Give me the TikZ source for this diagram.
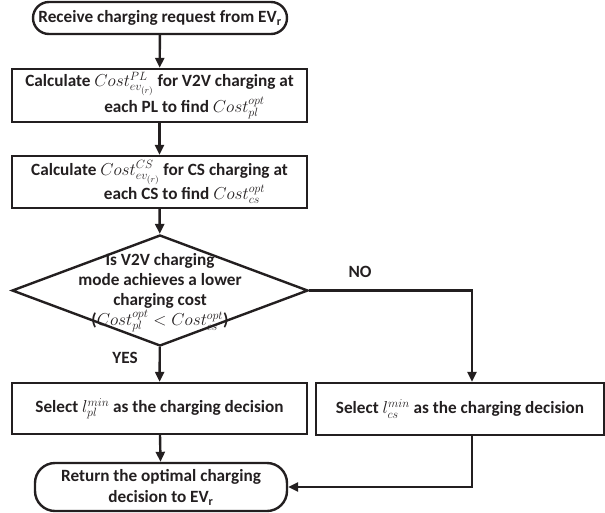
\documentclass[tikz,border=0pt]{standalone}
\usepackage{fontspec}
\setmainfont{Carlito}
\usetikzlibrary{shapes.geometric,arrows.meta}
\definecolor{ink}{RGB}{35,31,32}
\begin{document}
\begin{tikzpicture}[x=1pt,y=-1pt,
  font=\fontsize{17.2}{21.5}\selectfont\bfseries,
  lbl/.style={text=ink, inner sep=0pt},
  box/.style={draw=ink, line width=2.4pt, rectangle, minimum width=295pt, inner sep=0pt, align=center, text=ink},
  term/.style={draw=ink, line width=2.4pt, rectangle, inner sep=0pt, align=center, text=ink},
  arr/.style={draw=ink, line width=2.4pt, -{Triangle[length=10pt,width=9pt]}}]
\useasboundingbox (0,0) rectangle (605,512);
\node[term, rounded corners=16pt, minimum width=254pt, minimum height=32pt] (t1) at (160,18) {Receive charging request from EV\textsubscript{r}};
\node[box, minimum height=53pt] (b1) at (159.5,95.5) {Calculate $Cost^{PL}_{ev_{(r)}}$ for V2V charging at\\\hspace*{50pt}each PL to find $Cost^{opt}_{pl}$};
\node[box, minimum height=52pt] (b2) at (159.5,182) {Calculate $Cost^{CS}_{ev_{(r)}}$ for CS charging at\\\hspace*{50pt}each CS to find $Cost^{opt}_{cs}$};
\node[diamond, draw=ink, line width=2.4pt, minimum width=296pt, minimum height=111pt, inner sep=0pt] (d) at (160,290.5) {};
\node[lbl, align=center, font=\fontsize{17.2}{20}\selectfont\bfseries] (dt) at (160,293) {Is V2V charging\\mode achieves a lower\\charging cost\\($Cost^{opt}_{pl} < Cost^{opt}_{cs}$)};
\node[box, minimum height=51pt] (lb) at (159.5,408.5) {Select $l^{min}_{pl}$ as the charging decision};
\node[box, minimum width=288pt, minimum height=52pt] (rb) at (460,409) {Select $l^{min}_{cs}$ as the charging decision};
\node[term, rounded corners=20pt, minimum width=252pt, minimum height=48pt] (t2) at (161,487) {Return the optimal charging\\decision to EV\textsubscript{r}};
\node[lbl] (no) at (360,272) {NO};
\node[lbl] (yes) at (125,358) {YES};
\coordinate (nturn) at (472,290.5);
\coordinate (nbot) at (472,435);
\draw[arr] (t1) -- (b1);
\draw[arr] (b1) -- (b2);
\draw[arr] (b2) -- (d);
\draw[arr] (d) -- (lb);
\draw[arr] (d.east) -- (nturn) -- (nturn |- rb.north);
\draw[arr] (lb) -- (t2);
\draw[arr] (nbot) |- (t2.east);
\end{tikzpicture}
\end{document}
